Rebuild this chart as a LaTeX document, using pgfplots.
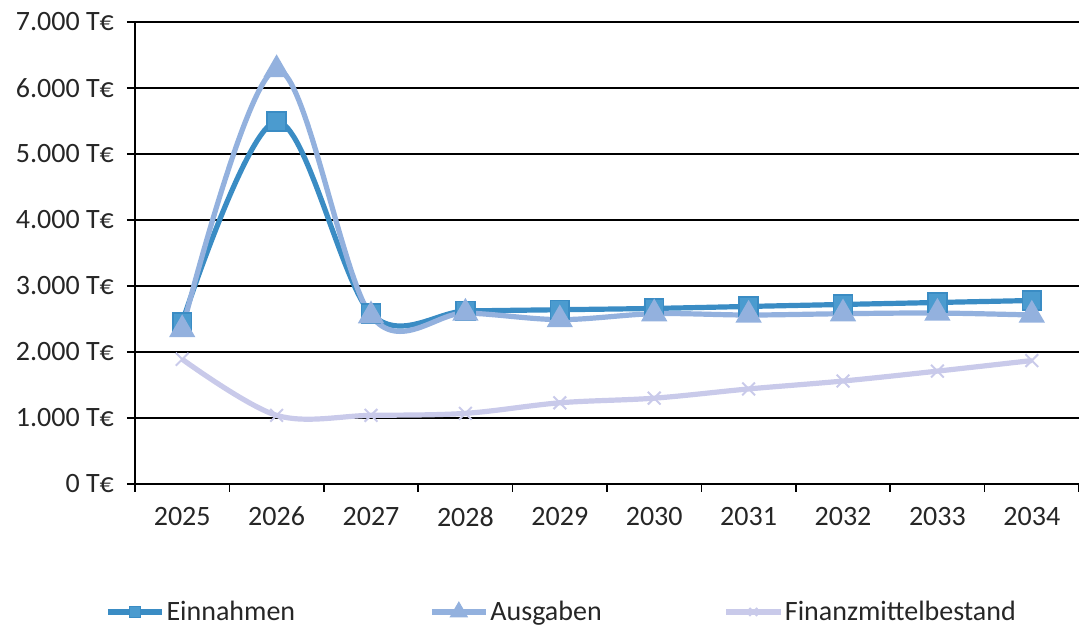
\documentclass[border=0pt]{standalone}
\usepackage{pgfplots}
\pgfplotsset{compat=1.18}
\usepackage{fontspec}
\setmainfont{Carlito}
\definecolor{einC}{HTML}{3A8CC4}
\definecolor{einF}{HTML}{4B9BCF}
\definecolor{ausC}{HTML}{93B1DE}
\definecolor{finC}{HTML}{C9CAEA}
\begin{document}
\begin{tikzpicture}
\begin{axis}[
  scale only axis,
  width=472pt, height=231pt,
  xmin=-0.5, xmax=9.5,
  ymin=0, ymax=7000,
  xtick={0,...,9},
  xticklabels={2025,2026,2027,2028,2029,2030,2031,2032,2033,2034},
  minor xtick={-0.5,0.5,...,9.5},
  ytick={0,1000,...,7000},
  yticklabels={0 T€,1.000 T€,2.000 T€,3.000 T€,4.000 T€,5.000 T€,6.000 T€,7.000 T€},
  axis x line*=bottom, axis y line*=left,
  axis line style={black, line width=0.8pt},
  x axis line style={draw=none},
  major x tick style={draw=none},
  minor tick length=4pt,
  major tick length=4pt,
  tick align=outside,
  tick style={black, line width=0.8pt},
  ymajorgrids,
  grid style={black, line width=0.8pt},
  tick label style={font=\fontsize{14pt}{16pt}\selectfont, text=black!85},
  xticklabel style={yshift=-4pt},
  yticklabel style={xshift=-3pt},
  legend columns=3,
  legend style={draw=none, fill=none, at={(-0.0318,-0.277)}, anchor=west, inner sep=0pt,
    font=\fontsize{14pt}{16pt}\selectfont, text=black!85,
    nodes={inner sep=1pt},
    /tikz/every odd column/.append style={column sep=0pt},
    /tikz/column 2/.style={column sep=66pt},
    /tikz/column 4/.style={column sep=60pt}},
  legend cell align=left,
  legend image post style={mark size=2.8pt},
  legend image code/.code={
    \draw[#1, mark repeat=2, mark phase=2] plot coordinates {(0pt,0pt) (13.5pt,0pt) (27pt,0pt)};
  },
  clip=false,
]
\addplot[einC, line width=2.6pt, smooth, tension=0.55, mark=square*, mark size=4.7pt,
  mark options={solid, fill=einF, draw=einC, line width=0.8pt}]
  coordinates {(0,2450) (1,5490) (2,2580) (3,2620) (4,2640) (5,2660) (6,2690) (7,2720) (8,2750) (9,2780)};
\addlegendentry{Einnahmen}
\addplot[ausC, line width=2.6pt, smooth, tension=0.55, mark=triangle*, mark size=5pt,
  mark options={solid, fill=ausC, draw=ausC}]
  coordinates {(0,2340) (1,6280) (2,2550) (3,2590) (4,2490) (5,2580) (6,2560) (7,2580) (8,2590) (9,2560)};
\addlegendentry{Ausgaben}
\addplot[finC, line width=2.6pt, smooth, tension=0.55, mark=x, mark size=4.5pt,
  mark options={solid, draw=finC, line width=1pt}]
  coordinates {(0,1890) (1,1040) (2,1040) (3,1070) (4,1230) (5,1300) (6,1440) (7,1560) (8,1710) (9,1870)};
\addlegendentry{Finanzmittelbestand}
\coordinate (pbl) at (rel axis cs:-0.143,-0.3203);
\coordinate (ptr) at (rel axis cs:1,1.0476);
\end{axis}
\pgfresetboundingbox
\path (pbl) rectangle (ptr);
\end{tikzpicture}
\end{document}
